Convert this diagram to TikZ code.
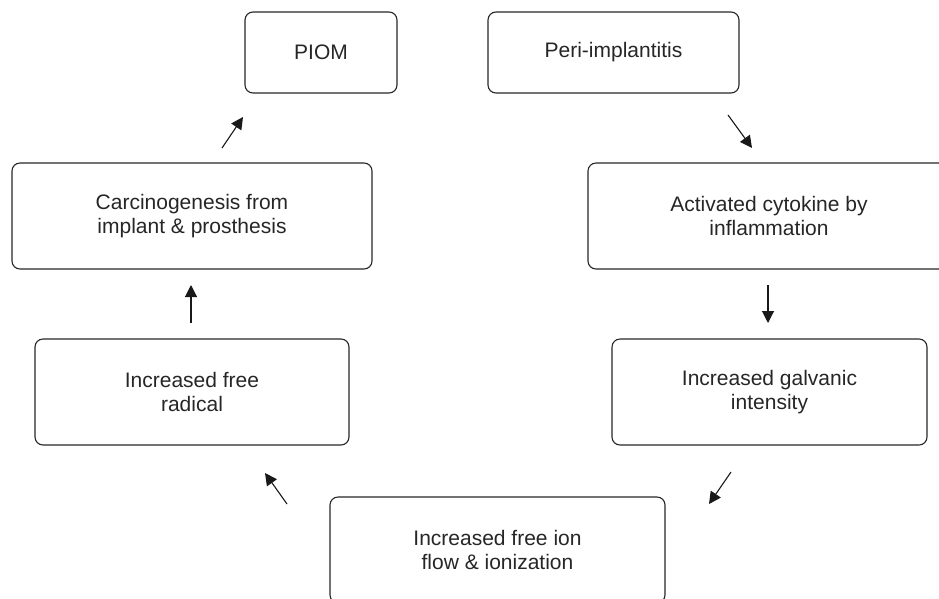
\documentclass[tikz,border=0pt]{standalone}
\usepackage{fontspec}
\setmainfont{Liberation Sans}
\usetikzlibrary{arrows.meta}
\begin{document}
\begin{tikzpicture}[x=1pt,y=-1pt,
  box/.style={draw=black!85, line width=1.1pt, rounded corners=8pt, align=center,
    font=\fontsize{21}{23.3}\selectfont, text=black!85, inner sep=0pt},
  arr/.style={line width=1.1pt, draw=black!90, -{Triangle[length=12pt,width=12pt]}}]
\useasboundingbox (0,0) rectangle (939,598);
\node[box, minimum width=152pt, minimum height=81pt] (piom) at (321,52.5) {PIOM};
\node[box, minimum width=251pt, minimum height=81pt] (peri) at (613.5,52.5) {Peri-implantitis};
\node[box, minimum width=360pt, minimum height=106pt] (carc) at (192,216) {Carcinogenesis from\\implant \& prosthesis};
\node[box, minimum width=362pt, minimum height=106pt] (act) at (769,216) {Activated cytokine by\\inflammation};
\node[box, minimum width=314pt, minimum height=106pt] (rad) at (192,392) {Increased free\\radical};
\node[box, minimum width=315pt, minimum height=106pt] (galv) at (769.5,392) {Increased galvanic\\intensity};
\node[box, minimum width=335pt, minimum height=106pt] (ion) at (497.5,550) {Increased free ion\\flow \& ionization};
\coordinate (a1s) at (191,323); \coordinate (a1e) at (191,285);
\coordinate (a2s) at (222,148); \coordinate (a2e) at (243,117);
\coordinate (a3s) at (728,115); \coordinate (a3e) at (752,148);
\coordinate (a4s) at (768,285); \coordinate (a4e) at (768,323);
\coordinate (a5s) at (731,472); \coordinate (a5e) at (709,504);
\coordinate (a6s) at (287,504); \coordinate (a6e) at (265,473);
\draw[arr] (a1s) -- (a1e);
\draw[arr] (a2s) -- (a2e);
\draw[arr] (a3s) -- (a3e);
\draw[arr] (a4s) -- (a4e);
\draw[arr] (a5s) -- (a5e);
\draw[arr] (a6s) -- (a6e);
\end{tikzpicture}
\end{document}
